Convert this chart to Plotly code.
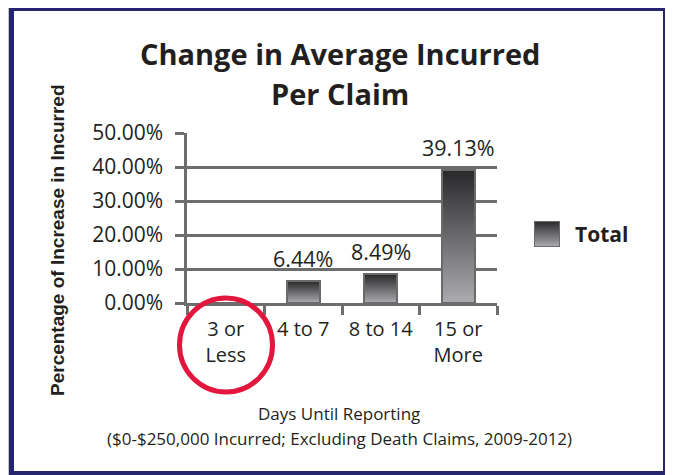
import plotly.graph_objects as go

# ---- data ----
categories = ["3 or<br>Less", "4 to 7", "8 to 14", "15 or<br>More"]
values = [0.0, 6.44, 8.49, 39.13]
value_labels = ["", "6.44%", "8.49%", "39.13%"]
y_tick_vals = [0, 10, 20, 30, 40, 50]
y_tick_text = ["0.00%", "10.00%", "20.00%", "30.00%", "40.00%", "50.00%"]
series_name = "Total"
title_lines = ["Change in Average Incurred", "Per Claim"]
y_title = "Percentage of Increase in Incurred"
x_title_lines = ["Days Until Reporting",
                 "($0-$250,000 Incurred; Excluding Death Claims, 2009-2012)"]

# ---- layout geometry (page pixels; page has an 8px body margin) ----
O = 8
FIG_W, FIG_H = 673 - O, 475 - O
L, T = 187, 133          # plot area left / top (page coords)
PW, PH = 310, 170        # main plot width / height
R_MARGIN = 40
PAPER_W = FIG_W - (L - O) - R_MARGIN


def px(x):
    return (x - L) / PAPER_W


def py(y):
    return (T + PH - y) / PH


FONT = "Open Sans"
TXT = "#231f20"
GRID = "#6d6d6d"
N = 40
TOP_RGB = (42, 42, 44)
BOT_RGB = (170, 170, 174)


def grad_color(k):
    t = k / (N - 1)
    c = [round(TOP_RGB[i] + (BOT_RGB[i] - TOP_RGB[i]) * t) for i in range(3)]
    return f"rgb({c[0]},{c[1]},{c[2]})"


fig = go.Figure()
BAR_W = 0.43

# gradient bars: successively shorter bars, lighter toward the base
for k in range(N):
    frac = (N - k) / N
    fig.add_trace(go.Bar(
        x=categories, y=[v * frac for v in values], width=BAR_W,
        marker=dict(color=grad_color(k), line=dict(width=0)),
        showlegend=False, hoverinfo="skip", xaxis="x", yaxis="y"))
fig.add_trace(go.Bar(
    x=categories, y=values, width=BAR_W, name=series_name,
    marker=dict(color="rgba(0,0,0,0)", line=dict(color="#6a6a6a", width=2)),
    showlegend=False, xaxis="x", yaxis="y"))

# legend swatch on its own small axes
for k in range(N):
    frac = (N - k) / N
    fig.add_trace(go.Bar(
        x=[0], y=[frac], width=1, marker=dict(color=grad_color(k), line=dict(width=0)),
        showlegend=False, hoverinfo="skip", xaxis="x2", yaxis="y2", cliponaxis=False))
fig.add_trace(go.Bar(
    x=[0], y=[1], width=1,
    marker=dict(color="rgba(0,0,0,0)", line=dict(color="#6a6a6a", width=2)),
    showlegend=False, hoverinfo="skip", xaxis="x2", yaxis="y2", cliponaxis=False))


def note(x, y, text, size, family=FONT, **kw):
    d = dict(x=px(x), y=py(y), xref="paper", yref="paper", text=text, showarrow=False,
             xanchor="center", yanchor="middle", font=dict(family=family, size=size, color=TXT))
    d.update(kw)
    return d


annotations = []
for c, v, lab in zip(categories, values, value_labels):
    if lab:
        annotations.append(dict(x=c, y=v, xref="x", yref="y", text=lab, showarrow=False,
                                xanchor="center", yanchor="bottom", yshift=6,
                                font=dict(family=FONT, size=21.5, color=TXT)))
annotations += [
    note(340, 53.5, f"<b>{title_lines[0]}</b>", 29),
    note(340, 93, f"<b>{title_lines[1]}</b>", 29),
    note(57, 240, f"<b>{y_title}</b>", 19, family="Liberation Sans", textangle=-90),
    note(339, 413, x_title_lines[0], 17),
    note(339, 438, x_title_lines[1], 17),
    note(573, 234, f"<b>{series_name}</b>", 21, xanchor="left"),
]

NAVY = "#25246f"
shapes = [
    dict(type="rect", xref="paper", yref="paper", x0=px(668), x1=px(676), y0=py(32), y1=py(480),
         line=dict(width=0), fillcolor="#a9a8cf", layer="below"),
    dict(type="rect", xref="paper", yref="paper", x0=px(8.5), x1=px(669), y0=py(5.5), y1=py(480),
         line=dict(color="#c4c4d0", width=1), fillcolor="rgba(0,0,0,0)", layer="below"),
    dict(type="rect", xref="paper", yref="paper", x0=px(11.5), x1=px(665.5), y0=py(8.5), y1=py(473.5),
         line=dict(color=NAVY, width=5), fillcolor="rgba(0,0,0,0)", layer="below"),
    dict(type="circle", xref="paper", yref="paper", x0=px(179.5), x1=px(272.5), y0=py(298), y1=py(392),
         line=dict(color="#e3173e", width=5), fillcolor="rgba(0,0,0,0)", layer="above"),
]

fig.update_layout(
    width=FIG_W, height=FIG_H,
    margin=dict(l=L - O, r=R_MARGIN, t=T - O, b=FIG_H - (T + PH - O), pad=0),
    paper_bgcolor="white", plot_bgcolor="white",
    barmode="overlay", bargap=0,
    showlegend=False,
    xaxis=dict(domain=[0, PW / PAPER_W], type="category", range=[-0.5, 3.5],
               showgrid=False, showline=True, linecolor=GRID, linewidth=2.5,
               ticks="outside", tickson="boundaries", ticklen=9, tickwidth=2.5, tickcolor=GRID,
               tickfont=dict(family=FONT, size=20, color=TXT), ticklabelstandoff=6,
               fixedrange=True),
    yaxis=dict(range=[0, 50], tickvals=y_tick_vals, ticktext=y_tick_text,
               showgrid=True, gridcolor=GRID, gridwidth=2.5, zeroline=False,
               showline=True, linecolor=GRID, linewidth=2.5,
               ticks="outside", ticklen=9, tickwidth=2.5, tickcolor=GRID,
               tickfont=dict(family=FONT, size=21, color=TXT), ticklabelstandoff=8,
               fixedrange=True),
    xaxis2=dict(domain=[px(534), px(560)], range=[-0.5, 0.5], visible=False, anchor="y2", fixedrange=True),
    yaxis2=dict(domain=[py(247), py(221)], range=[0, 1], visible=False, anchor="x2", fixedrange=True),
    annotations=annotations,
    shapes=shapes,
)

fig.write_html("out.html")
